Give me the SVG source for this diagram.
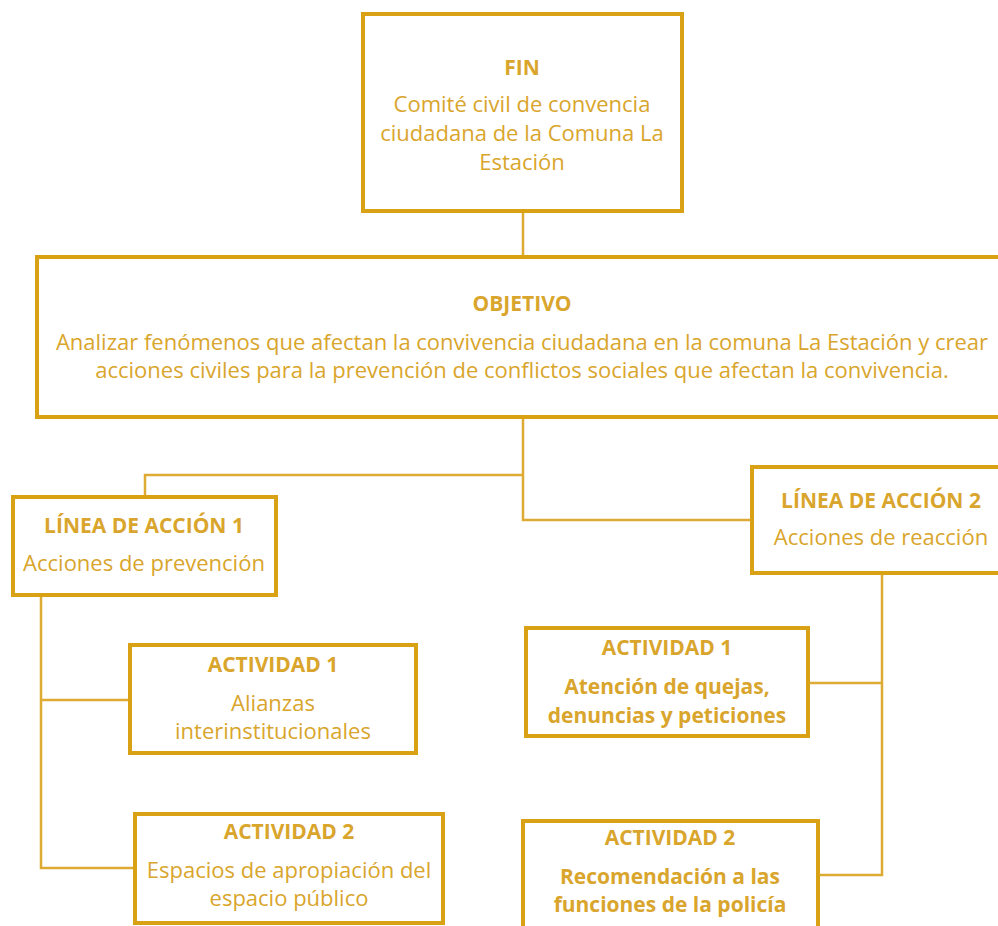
<svg xmlns="http://www.w3.org/2000/svg" width="998" height="926" viewBox="0 0 998 926">
<style>
.box{fill:#fff;stroke:#D9A214;stroke-width:4}
.ln{fill:none;stroke:#DDAA33;stroke-width:2.5}
text{font-family:"Open Sans","Liberation Sans",Arial,sans-serif;font-size:22px;fill:#D9A52C;text-anchor:middle}
.b{font-weight:bold;font-size:21px}
</style>
<rect width="998" height="926" fill="#fff"/>
<g id="connectors">
<path class="ln" d="M523 211V257"/>
<path class="ln" d="M523 417V520H752"/>
<path class="ln" d="M523 475H145V497"/>
<path class="ln" d="M41 595V868H135"/>
<path class="ln" d="M41 700H130"/>
<path class="ln" d="M882 573V875H818"/>
<path class="ln" d="M882 683H808"/>
</g>
<g id="fin">
<rect class="box" x="363" y="14" width="319" height="197"/>
<text class="b" x="522" y="75">FIN</text>
<text x="522" y="112">Comité civil de convencia</text>
<text x="522" y="141">ciudadana de la Comuna La</text>
<text x="522" y="170">Estación</text>
</g>
<g id="objetivo">
<rect class="box" x="37" y="257" width="975" height="160"/>
<text class="b" x="522" y="311">OBJETIVO</text>
<text x="522" y="350">Analizar fenómenos que afectan la convivencia ciudadana en la comuna La Estación y crear</text>
<text x="522" y="378">acciones civiles para la prevención de conflictos sociales que afectan la convivencia.</text>
</g>
<g id="linea1">
<rect class="box" x="13" y="497" width="263" height="98"/>
<text class="b" x="144" y="533">LÍNEA DE ACCIÓN 1</text>
<text x="144" y="571">Acciones de prevención</text>
</g>
<g id="linea2">
<rect class="box" x="752" y="467" width="258" height="106"/>
<text class="b" x="881" y="508">LÍNEA DE ACCIÓN 2</text>
<text x="881" y="545">Acciones de reacción</text>
</g>
<g id="act1-l">
<rect class="box" x="130" y="645" width="286" height="108"/>
<text class="b" x="273" y="672">ACTIVIDAD 1</text>
<text x="273" y="711">Alianzas</text>
<text x="273" y="739">interinstitucionales</text>
</g>
<g id="act2-l">
<rect class="box" x="135" y="814" width="308" height="109"/>
<text class="b" x="289" y="839">ACTIVIDAD 2</text>
<text x="289" y="878">Espacios de apropiación del</text>
<text x="289" y="906">espacio público</text>
</g>
<g id="act1-r">
<rect class="box" x="526" y="628" width="282" height="108"/>
<text class="b" x="667" y="655">ACTIVIDAD 1</text>
<text class="b" x="667" y="694">Atención de quejas,</text>
<text class="b" x="667" y="723">denuncias y peticiones</text>
</g>
<g id="act2-r">
<rect class="box" x="523" y="821" width="295" height="115"/>
<text class="b" x="670" y="845">ACTIVIDAD 2</text>
<text class="b" x="670" y="884">Recomendación a las</text>
<text class="b" x="670" y="912">funciones de la policía</text>
</g>
</svg>
